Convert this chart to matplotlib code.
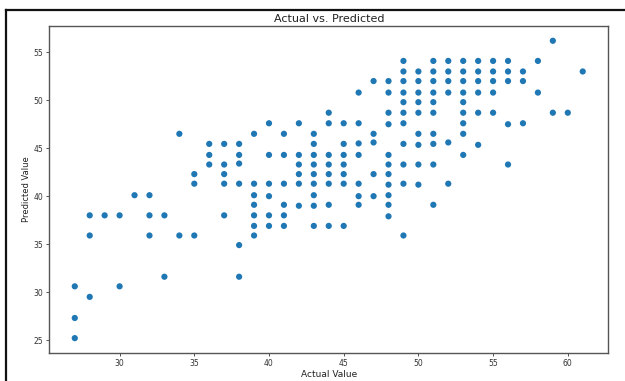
import matplotlib
matplotlib.use("Agg")
import matplotlib.pyplot as plt
from matplotlib.lines import Line2D

# Predicted values for each actual value
pred_by_actual = {
    27: [30.6, 27.3, 25.2],
    28: [38.0, 35.9, 29.5],
    29: [38.0],
    30: [38.0, 30.6],
    31: [40.1],
    32: [40.1, 38.0, 35.9],
    33: [38.0, 31.6],
    34: [46.5, 35.9],
    35: [42.3, 41.3, 35.9],
    36: [45.45, 44.3, 43.3],
    37: [45.45, 43.3, 42.3, 41.3, 38.0],
    38: [45.45, 44.3, 43.4, 41.3, 34.9, 31.6],
    39: [46.5, 41.3, 40.1, 39.1, 38.0, 36.9, 35.9],
    40: [47.6, 44.3, 41.3, 40.0, 38.0, 36.9],
    41: [46.5, 44.3, 41.3, 39.1, 38.0, 36.9],
    42: [47.6, 44.3, 43.3, 42.3, 41.3, 39.0],
    43: [46.5, 45.45, 44.3, 43.3, 42.3, 41.3, 40.1, 39.0, 36.9],
    44: [48.7, 47.6, 44.3, 43.3, 42.3, 41.3, 39.1, 36.9],
    45: [47.6, 45.45, 44.3, 43.3, 42.3, 41.3, 36.9],
    46: [50.8, 47.6, 45.5, 44.3, 41.3, 40.0, 39.1],
    47: [52.0, 46.5, 45.6, 42.3, 40.0],
    48: [52.0, 50.8, 48.7, 47.5, 44.3, 43.3, 42.3, 41.2, 40.1, 39.1, 37.9],
    49: [54.1, 53.0, 52.0, 50.8, 49.8, 48.7, 47.6, 45.45, 43.3, 41.3, 35.9],
    50: [53.0, 52.0, 50.8, 49.8, 48.7, 46.5, 45.35, 43.3, 41.2],
    51: [54.1, 53.0, 52.0, 50.8, 49.8, 48.7, 46.5, 45.45, 43.3, 39.1],
    52: [54.1, 53.0, 52.0, 50.8, 45.6, 41.3],
    53: [54.1, 53.0, 52.0, 50.8, 49.8, 48.7, 47.6, 46.5, 44.3],
    54: [54.1, 53.0, 52.0, 50.8, 48.7, 45.35],
    55: [54.1, 53.0, 52.0, 50.8, 48.7],
    56: [54.1, 53.0, 52.0, 47.5, 43.3],
    57: [53.0, 52.0, 47.6],
    58: [54.1, 50.8],
    59: [56.2, 48.7],
    60: [48.7],
    61: [53.0],
}

actual = [a for a, ps in pred_by_actual.items() for _ in ps]
predicted = [p for ps in pred_by_actual.values() for p in ps]

title = "Actual vs. Predicted"
xlabel = "Actual Value"
ylabel = "Predicted Value"
xticks = [30, 35, 40, 45, 50, 55, 60]
yticks = [25, 30, 35, 40, 45, 50, 55]

fig = plt.figure(figsize=(6.25, 3.81), dpi=100)
ax = fig.add_axes([0.079, 0.0735, 0.894, 0.8585])
ax.scatter(actual, predicted, s=20, color="#1f77b4", edgecolors="none")
ax.set_xticks(xticks)
ax.set_yticks(yticks)
ax.tick_params(labelsize=5.5, length=2.5, width=0.6, pad=2, colors="#333333")
for sp in ax.spines.values():
    sp.set_color("#555555")
    sp.set_linewidth(1.0)
ax.set_title(title, fontsize=8, pad=3, color="#222222")
ax.set_xlabel(xlabel, fontsize=6.5, labelpad=1, color="#222222")
ax.set_ylabel(ylabel, fontsize=6, labelpad=2, color="#222222")

# screenshot frame lines (left and top)
fig.add_artist(Line2D([0.009, 0.009], [0.0, 0.974], transform=fig.transFigure,
                      color="#111111", linewidth=1.6))
fig.add_artist(Line2D([0.009, 1.0], [0.974, 0.974], transform=fig.transFigure,
                      color="#111111", linewidth=1.6))

fig.savefig("out.png", dpi=100)
